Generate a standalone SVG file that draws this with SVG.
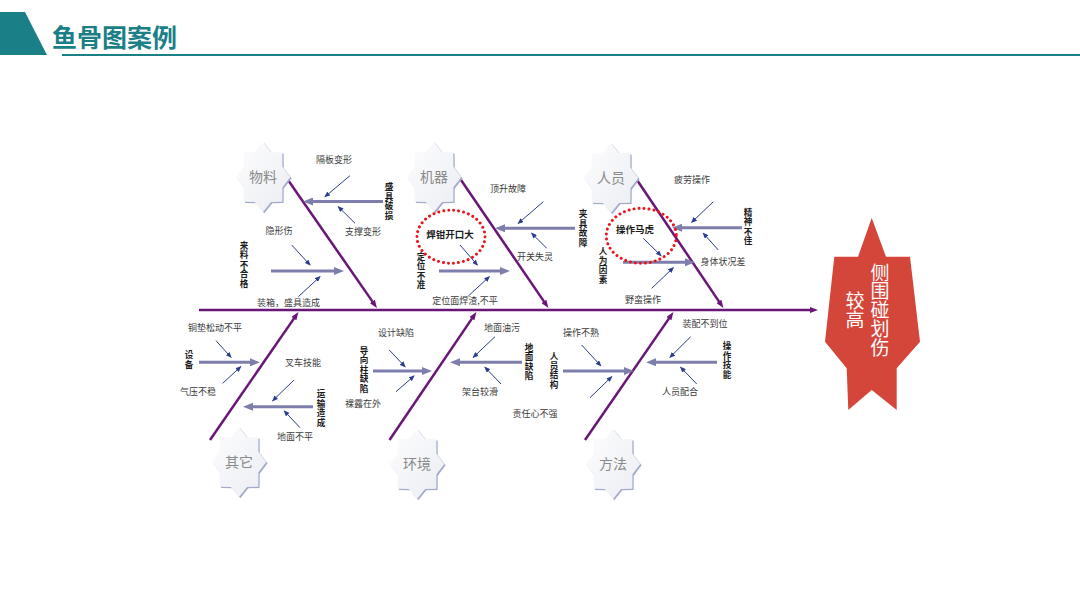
<svg xmlns="http://www.w3.org/2000/svg" xmlns:xlink="http://www.w3.org/1999/xlink" width="1080" height="607" viewBox="0 0 1080 607">
<style>
text{font-family:"Noto Sans CJK SC","Noto Sans",sans-serif;}
.lbl{font-size:9px;fill:#3a3a3a;text-anchor:middle;}
.vb{font-size:8.6px;font-weight:bold;fill:#1a1a1a;text-anchor:middle;}
.bd{font-size:9.5px;font-weight:bold;fill:#1a1a1a;text-anchor:middle;}
.bt{font-size:14px;fill:#8a8a8a;text-anchor:middle;}
.bone{stroke:#6A1577;stroke-width:2.5;fill:none;marker-end:url(#mp);}
.sub{stroke:#7E7EAD;stroke-width:3;fill:none;marker-end:url(#ml);}
.tiny{stroke:#2B3D8F;stroke-width:1;fill:none;marker-end:url(#mb);}
.ring{fill:none;stroke:#E8151B;stroke-width:3;stroke-dasharray:0.01 5;stroke-linecap:round;}
.star{fill:url(#sg);}
.shadow{fill:#A3ABCB;}
.head{font-size:19px;fill:#ffffff;text-anchor:middle;}
</style>
<defs>
<linearGradient id="sg" x1="0" y1="0" x2="1" y2="1">
<stop offset="0" stop-color="#FDFDFE"/>
<stop offset="1" stop-color="#EBEDF3"/>
</linearGradient>
<polygon id="star" points="0,-35 8.06,-24.94 19.3,-24.75 19.45,-10.33 27.3,0 19.45,10.33 19.3,24.75 8.06,24.94 0,35 -8.06,24.94 -19.3,24.75 -19.45,10.33 -27.3,0 -19.45,-10.33 -19.3,-24.75 -8.06,-24.94"/>
<marker id="mp" viewBox="0 0 8 6" markerWidth="8" markerHeight="6" refX="3" refY="3" orient="auto" markerUnits="userSpaceOnUse"><path d="M0,0 L8,3 L0,6 z" fill="#6A1577"/></marker>
<marker id="ml" viewBox="0 0 10 8" markerWidth="10" markerHeight="8" refX="4" refY="4" orient="auto" markerUnits="userSpaceOnUse"><path d="M0,0 L10,4 L0,8 z" fill="#7E7EAD"/></marker>
<marker id="mb" viewBox="0 0 6 5" markerWidth="6" markerHeight="5" refX="5" refY="2.5" orient="auto" markerUnits="userSpaceOnUse"><path d="M0,0 L6,2.5 L0,5 z" fill="#2B3D8F"/></marker>
</defs>
<rect width="1080" height="607" fill="#ffffff"/>
<g id="header">
<polygon points="0,12 25,12 47,55 0,55" fill="#1B7F87"/>
<line x1="62" y1="55" x2="1080" y2="55" stroke="#1B7F87" stroke-width="2"/>
<text x="52" y="47" style="font-size:25px;font-weight:bold;fill:#1B7F87;">鱼骨图案例</text>
</g>
<g id="connectors">
<line class="bone" x1="199" y1="310" x2="813" y2="310"/>
<line class="bone" x1="288" y1="180" x2="374.1" y2="303.9"/>
<line class="bone" x1="461" y1="180" x2="545.6" y2="303.9"/>
<line class="bone" x1="637" y1="180" x2="720.6" y2="303.9"/>
<line class="bone" x1="210" y1="440" x2="295.6" y2="316.1"/>
<line class="bone" x1="389.5" y1="440" x2="473.6" y2="316.1"/>
<line class="bone" x1="585" y1="440" x2="670.6" y2="316.1"/>
<line class="sub" x1="383" y1="201.5" x2="309" y2="201.5"/>
<line class="sub" x1="271" y1="271" x2="338" y2="271"/>
<line class="sub" x1="575" y1="228.3" x2="501" y2="228.3"/>
<line class="sub" x1="439" y1="271" x2="504" y2="271"/>
<line class="sub" x1="742" y1="227.7" x2="678" y2="227.7"/>
<line class="sub" x1="623" y1="262.3" x2="689" y2="262.3"/>
<line class="sub" x1="199" y1="362.3" x2="254" y2="362.3"/>
<line class="sub" x1="313" y1="406.7" x2="249" y2="406.7"/>
<line class="sub" x1="373" y1="371" x2="426" y2="371"/>
<line class="sub" x1="522" y1="362.3" x2="456" y2="362.3"/>
<line class="sub" x1="563" y1="371" x2="628" y2="371"/>
<line class="sub" x1="717" y1="362.3" x2="652" y2="362.3"/>
<line class="tiny" x1="350" y1="175.7" x2="325" y2="196.7"/>
<line class="tiny" x1="355" y1="223.3" x2="338.3" y2="206.7"/>
<line class="tiny" x1="291.7" y1="245" x2="310" y2="265"/>
<line class="tiny" x1="298.3" y1="296.7" x2="320" y2="276.7"/>
<line class="tiny" x1="543.3" y1="201.7" x2="518.3" y2="223.3"/>
<line class="tiny" x1="546.7" y1="248.3" x2="531.7" y2="233.3"/>
<line class="tiny" x1="460" y1="245" x2="477.3" y2="265"/>
<line class="tiny" x1="468.3" y1="296" x2="489.3" y2="276.7"/>
<line class="tiny" x1="713.3" y1="201.7" x2="691.7" y2="222.3"/>
<line class="tiny" x1="718.3" y1="250" x2="703.3" y2="233.3"/>
<line class="tiny" x1="643.3" y1="238.3" x2="661" y2="255.7"/>
<line class="tiny" x1="651.7" y1="288.3" x2="673.3" y2="267.7"/>
<line class="tiny" x1="216" y1="340.7" x2="231" y2="357.3"/>
<line class="tiny" x1="222.7" y1="383.3" x2="240.7" y2="366.7"/>
<line class="tiny" x1="294" y1="380" x2="272.7" y2="400.7"/>
<line class="tiny" x1="300" y1="427.7" x2="284.3" y2="411"/>
<line class="tiny" x1="389.3" y1="350" x2="405" y2="366.7"/>
<line class="tiny" x1="396" y1="391.7" x2="414" y2="376"/>
<line class="tiny" x1="495" y1="336.7" x2="473.3" y2="357.3"/>
<line class="tiny" x1="501" y1="384" x2="485" y2="367.3"/>
<line class="tiny" x1="581.7" y1="345" x2="600.7" y2="365.7"/>
<line class="tiny" x1="590" y1="397.7" x2="611.7" y2="376.7"/>
<line class="tiny" x1="690.7" y1="336.7" x2="670" y2="357.3"/>
<line class="tiny" x1="696.7" y1="384" x2="680.7" y2="367.3"/>
</g>
<g id="node-wuliao">
<use xlink:href="#star" href="#star" class="shadow" transform="translate(264.3,178.3)"/>
<use xlink:href="#star" href="#star" class="star" transform="translate(263,177)"/>
<text class="bt" x="263" y="182">物料</text>
</g>
<g id="node-jiqi">
<use xlink:href="#star" href="#star" class="shadow" transform="translate(435.3,178.3)"/>
<use xlink:href="#star" href="#star" class="star" transform="translate(434,177)"/>
<text class="bt" x="434" y="182">机器</text>
</g>
<g id="node-renyuan">
<use xlink:href="#star" href="#star" class="shadow" transform="translate(612.3,179.3)"/>
<use xlink:href="#star" href="#star" class="star" transform="translate(611,178)"/>
<text class="bt" x="611" y="183">人员</text>
</g>
<g id="node-qita">
<use xlink:href="#star" href="#star" class="shadow" transform="translate(240.3,463.3)"/>
<use xlink:href="#star" href="#star" class="star" transform="translate(239,462)"/>
<text class="bt" x="239" y="467">其它</text>
</g>
<g id="node-huanjing">
<use xlink:href="#star" href="#star" class="shadow" transform="translate(418.3,465.3)"/>
<use xlink:href="#star" href="#star" class="star" transform="translate(417,464)"/>
<text class="bt" x="417" y="469">环境</text>
</g>
<g id="node-fangfa">
<use xlink:href="#star" href="#star" class="shadow" transform="translate(614.3,465.3)"/>
<use xlink:href="#star" href="#star" class="star" transform="translate(613,464)"/>
<text class="bt" x="613" y="469">方法</text>
</g>
<g id="node-head">
<polygon points="871.7,218 886,256.7 910,256.7 920,341.7 896.7,368.3 896.7,410 871.7,390 848.3,410 846.7,368.3 825,341.7 834.3,256.7 858,256.7" fill="#D5463A"/>
<text class="head"><tspan x="880" y="279.6">侧</tspan><tspan x="880" y="298.4">围</tspan><tspan x="880" y="317.2">碰</tspan><tspan x="880" y="336">划</tspan><tspan x="880" y="354.8">伤</tspan></text>
<text class="head"><tspan x="855" y="307.8">较</tspan><tspan x="855" y="326.6">高</tspan></text>
</g>
<g id="labels-wuliao">
<text class="lbl" x="334" y="163.4">隔板变形</text>
<text class="lbl" x="363" y="234.9">支撑变形</text>
<text class="lbl" x="279" y="234.4">隐形伤</text>
<text class="lbl" x="288.5" y="305.9">装箱，盛具造成</text>
<text class="vb"><tspan x="389" y="190.05">盛</tspan><tspan x="389" y="199.55">具</tspan><tspan x="389" y="209.05">破</tspan><tspan x="389" y="218.55">损</tspan></text>
<text class="vb"><tspan x="244" y="248.5">来</tspan><tspan x="244" y="258">料</tspan><tspan x="244" y="267.5">不</tspan><tspan x="244" y="277">合</tspan><tspan x="244" y="286.5">格</tspan></text>
</g>
<g id="labels-jiqi">
<text class="lbl" x="508" y="192.4">顶升故障</text>
<text class="lbl" x="535" y="260.4">开关失灵</text>
<text class="bd" x="450" y="237.6">焊钳开口大</text>
<text class="lbl" x="465" y="304.4">定位面焊渣,不平</text>
<text class="vb"><tspan x="583" y="217.35">夹</tspan><tspan x="583" y="226.85">具</tspan><tspan x="583" y="236.35">故</tspan><tspan x="583" y="245.85">障</tspan></text>
<text class="vb"><tspan x="421" y="259.75">定</tspan><tspan x="421" y="269.25">位</tspan><tspan x="421" y="278.75">不</tspan><tspan x="421" y="288.25">准</tspan></text>
</g>
<g id="labels-renyuan">
<text class="lbl" x="692" y="183.4">疲劳操作</text>
<text class="lbl" x="723" y="265.4">身体状况差</text>
<text class="bd" x="635" y="233.4">操作马虎</text>
<text class="lbl" x="643" y="303.4">野蛮操作</text>
<text class="vb"><tspan x="748" y="215.75">精</tspan><tspan x="748" y="225.25">神</tspan><tspan x="748" y="234.75">不</tspan><tspan x="748" y="244.25">佳</tspan></text>
<text class="vb"><tspan x="603" y="254.05">人</tspan><tspan x="603" y="263.55">为</tspan><tspan x="603" y="273.05">因</tspan><tspan x="603" y="282.55">素</tspan></text>
</g>
<g id="labels-qita">
<text class="lbl" x="215" y="331.4">铜垫松动不平</text>
<text class="lbl" x="198" y="395.4">气压不稳</text>
<text class="lbl" x="303" y="366.4">叉车技能</text>
<text class="lbl" x="295" y="439.9">地面不平</text>
<text class="vb"><tspan x="189" y="358.25">设</tspan><tspan x="189" y="367.75">备</tspan></text>
<text class="vb"><tspan x="321" y="397.05">运</tspan><tspan x="321" y="406.55">输</tspan><tspan x="321" y="416.05">造</tspan><tspan x="321" y="425.55">成</tspan></text>
</g>
<g id="labels-huanjing">
<text class="lbl" x="396" y="335.9">设计缺陷</text>
<text class="lbl" x="363" y="407.4">裸露在外</text>
<text class="lbl" x="502" y="330.9">地面油污</text>
<text class="lbl" x="480" y="394.9">架台较滑</text>
<text class="lbl" x="535" y="417.4">责任心不强</text>
<text class="vb"><tspan x="364" y="353.8">导</tspan><tspan x="364" y="363.3">向</tspan><tspan x="364" y="372.8">柱</tspan><tspan x="364" y="382.3">缺</tspan><tspan x="364" y="391.8">陷</tspan></text>
<text class="vb"><tspan x="529" y="350.75">地</tspan><tspan x="529" y="360.25">面</tspan><tspan x="529" y="369.75">缺</tspan><tspan x="529" y="379.25">陷</tspan></text>
</g>
<g id="labels-fangfa">
<text class="lbl" x="581" y="336.4">操作不熟</text>
<text class="lbl" x="705" y="327.4">装配不到位</text>
<text class="lbl" x="680" y="395.4">人员配合</text>
<text class="vb"><tspan x="554" y="359.05">人</tspan><tspan x="554" y="368.55">员</tspan><tspan x="554" y="378.05">结</tspan><tspan x="554" y="387.55">构</tspan></text>
<text class="vb"><tspan x="727" y="349.35">操</tspan><tspan x="727" y="358.85">作</tspan><tspan x="727" y="368.35">技</tspan><tspan x="727" y="377.85">能</tspan></text>
</g>
<g id="highlights">
<ellipse class="ring" cx="451" cy="236.7" rx="34" ry="26.5"/>
<ellipse class="ring" cx="641.3" cy="235.8" rx="35" ry="27.5"/>
</g>
</svg>
